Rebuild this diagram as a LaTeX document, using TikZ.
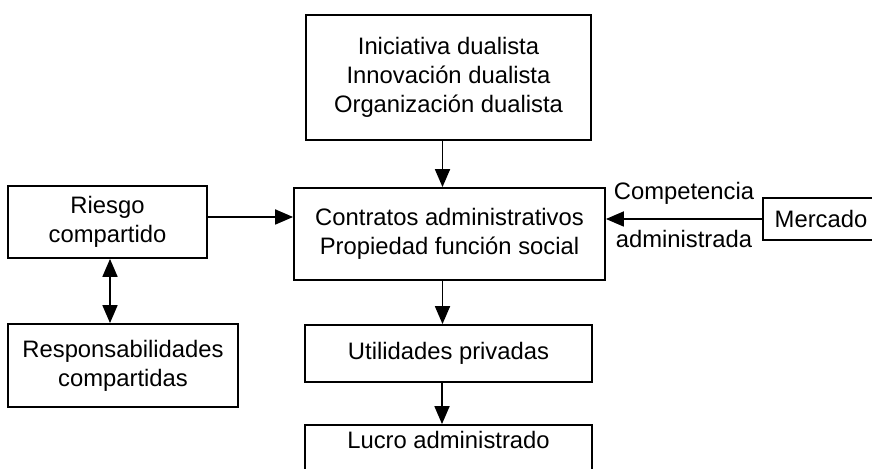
\documentclass[tikz,border=0pt]{standalone}
\usepackage{fontspec}
\setmainfont{Liberation Sans}
\usetikzlibrary{arrows.meta}

\begin{document}
\begin{tikzpicture}[x=0.5pt,y=-0.5pt,
        box/.style={shape=rectangle,draw=black,line width=0.9pt,align=center,inner sep=0pt,font=\fontsize{11.9}{14.4}\selectfont},
        arr/.style={line width=0.9pt,-{Triangle[length=9pt,width=7.5pt]}},
        dblarr/.style={line width=0.9pt,{Triangle[length=9pt,width=7.5pt]}-{Triangle[length=9pt,width=7.5pt]}},
        lbl/.style={inner sep=1pt,font=\fontsize{11.9}{14.4}\selectfont}]
        \useasboundingbox (0,0) rectangle (872,469);
        \clip (0,0) rectangle (872,469);

        \node[box,minimum width=142.5pt,minimum height=62.5pt] (A) at (448.5,77.5) {Iniciativa dualista\\Innovación dualista\\Organización dualista};
        \node[box,minimum width=155.5pt,minimum height=46pt] (B) at (449.5,234) {Contratos administrativos\\Propiedad función social};
        \node[box,minimum width=99.5pt,minimum height=36pt] (C) at (107.5,222) {Riesgo\\compartido};
        \node[box,minimum width=115pt,minimum height=41.5pt] (D) at (123,365.5) {Responsabilidades\\compartidas};
        \node[box,minimum width=58pt,minimum height=21pt] (E) at (821,219) {Mercado};
        \node[box,minimum width=143.5pt,minimum height=28.5pt] (F) at (448.5,353.5) {Utilidades privadas};
        \node[box,minimum width=143.5pt,minimum height=28.5pt,text height=8.6pt,text depth=13.5pt] (G) at (448.5,453.5) {Lucro administrado};

        \draw [arr]([xshift=-3pt]A.south) -- ([xshift=-3pt]A.south |- B.north);
        \draw [arr]([yshift=2.5pt]C.east) -- ([yshift=2.5pt]C.east -| B.west);
        \draw [arr](E.west) -- node [lbl,above=5.7pt] {Competencia} node [lbl,below=4.2pt] {administrada} (E.west -| B.east);
        \draw [dblarr]([xshift=1.25pt]C.south) -- ([xshift=1.25pt]C.south |- D.north);
        \draw [arr]([xshift=-3.5pt]B.south) -- ([xshift=-3.5pt]B.south |- F.north);
        \draw [arr]([xshift=-3.25pt]F.south) -- ([xshift=-3.25pt]F.south |- G.north);
\end{tikzpicture}
\end{document}
